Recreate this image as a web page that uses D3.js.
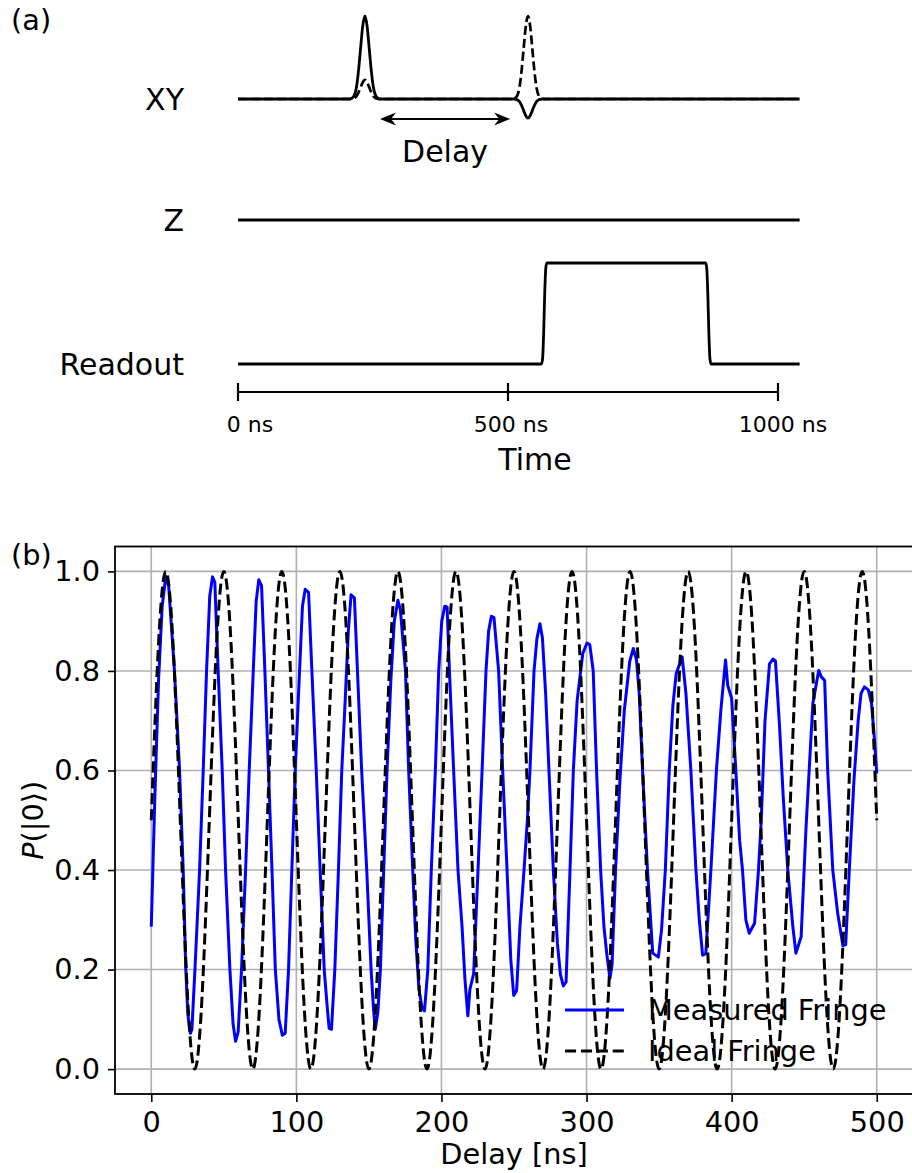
<!DOCTYPE html>
<html>
<head>
<meta charset="utf-8">
<script src="https://cdn.jsdelivr.net/npm/d3@7"></script>
<style>
  body { margin: 0; background: #fff; }
  svg { display: block; }
  text { font-family: "DejaVu Sans", sans-serif; fill: #000; }
</style>
</head>
<body>
<svg id="fig" width="912" height="1173"></svg>
<script>
// ---------------- Panel (a): pulse sequence ----------------
const seqEnd = 1040;                       // ns, end of every channel trace
const pulseCentres = [235, 537];           // ns, the two XY pulses
const pulseOffsets = [-27, -24, -20, -16, -12, -8, -4, 0, 4, 8, 12, 16, 20, 24, 27];
const pulseEnvelope = [0, 0.01, 0.04, 0.13, 0.33, 0.61, 0.88, 1, 0.88, 0.61, 0.33, 0.13, 0.04, 0.01, 0];
const xySolidAmps = [1, -0.23];            // drive seen on the solid trace
const xyDashedAmps = [0.23, 1];            // drive seen on the dashed trace
const readoutTimes = [0, 562, 564, 566, 568, 570, 572, 866, 868, 870, 872, 874, 876, 1040];
const readoutLevels = [0, 0, 0.05, 0.3, 0.7, 0.95, 1, 1, 0.95, 0.7, 0.3, 0.05, 0, 0];
const delaySpan = [263, 504];
const channelNames = ["XY", "Z", "Readout"];
const timeTicks = [0, 500, 1000];
const timeTickLabels = ["0 ns", "500 ns", "1000 ns"];

// ---------------- Panel (b): Ramsey fringe ----------------
const delayTicks = [0, 100, 200, 300, 400, 500];
const probTicks = [0, 0.2, 0.4, 0.6, 0.8, 1.0];

const measuredDelay = [0, 2.5, 5, 7.5, 10, 12, 16, 19.5, 22, 23.8, 25.2, 27, 28, 30.1, 33.3, 35.8, 38.1, 40.3, 42.2, 43.8,
  46.1, 48.9, 51.2, 54.2, 56.4, 58.1, 59.9, 62.2, 65, 67.5, 70.3, 72.3, 74.1, 76, 78.3, 80.8, 83.2, 85.5, 88, 90.3,
  92.3, 94.6, 96.9, 99.2, 102.2, 104.2, 106.1, 108.4, 110.7, 113.7, 116.4, 119.2, 121.4, 122.6, 124.2, 126.5, 129,
  131.3, 133.8, 135.8, 137.7, 140, 142.1, 145, 148.5, 151.5, 153.2, 154.4, 156.2, 157.9, 160.2, 162.5, 165.1, 167.5,
  170, 171.7, 175.2, 177.4, 180.2, 182.3, 184.5, 186.7, 188.3, 190.6, 193, 195.8, 198.1, 200.2, 202.3, 203.9, 205.5,
  208.4, 211.4, 214.2, 216.2, 218.2, 219.6, 222.2, 225.2, 228, 230.7, 232.5, 234.4, 236.2, 239.4, 242.2, 245.2, 247.8,
  249.8, 251.8, 254.1, 256.9, 259.2, 261, 263.8, 265.8, 267.9, 269.6, 271.8, 274.1, 277.1, 279.9, 282, 284, 285.9,
  288.6, 290.9, 293.5, 297.4, 300.3, 302.2, 304.6, 306.9, 309.7, 312, 314, 316.1, 317.6, 320, 323, 326, 329.8, 332.2,
  334.4, 336.3, 338.6, 342, 345.6, 349.5, 351.7, 354.3, 357, 359.5, 361.8, 365.9, 368.5, 371.9, 375.4, 377.7, 380,
  382.2, 385.7, 389.5, 392.6, 395.8, 397.3, 400, 402.9, 405.5, 407.5, 409.8, 412.1, 415.8, 418.5, 420.4, 423, 426.1,
  428.5, 430.2, 433, 435.5, 438.7, 442.2, 444.3, 447.9, 451.3, 453.8, 456, 460, 461.8, 464.1, 466.2, 469.7, 473.1,
  476.7, 478.6, 481.1, 484.3, 487.2, 489.2, 491.5, 494.2, 496.4, 498.5, 500];
const measuredP = [0.286, 0.55, 0.78, 0.93, 0.99, 0.97, 0.80, 0.60, 0.40, 0.20, 0.11, 0.072, 0.08, 0.20, 0.40, 0.60, 0.80, 0.95, 0.989, 0.978,
  0.80, 0.60, 0.40, 0.20, 0.09, 0.056, 0.075, 0.20, 0.40, 0.60, 0.80, 0.94, 0.983, 0.972, 0.80, 0.60, 0.40, 0.20, 0.10, 0.068,
  0.072, 0.20, 0.40, 0.60, 0.80, 0.93, 0.964, 0.958, 0.80, 0.60, 0.40, 0.20, 0.12, 0.082, 0.080, 0.20, 0.40,
  0.60, 0.75, 0.88, 0.953, 0.947, 0.80, 0.60, 0.40, 0.20, 0.12, 0.08, 0.115, 0.20, 0.40, 0.60, 0.78, 0.90,
  0.942, 0.922, 0.80, 0.60, 0.40, 0.26, 0.16, 0.122, 0.117, 0.20, 0.40, 0.60, 0.80, 0.90, 0.93, 0.928, 0.80,
  0.60, 0.40, 0.286, 0.18, 0.107, 0.16, 0.192, 0.40, 0.60, 0.80, 0.88, 0.91, 0.907, 0.80, 0.60, 0.40, 0.22,
  0.148, 0.158, 0.286, 0.40, 0.50, 0.60, 0.80, 0.865, 0.895, 0.866, 0.755, 0.60, 0.40, 0.253, 0.19, 0.167, 0.175,
  0.40, 0.60, 0.74, 0.835, 0.856, 0.853, 0.80, 0.60, 0.40, 0.286, 0.23, 0.182, 0.21, 0.40, 0.58, 0.72, 0.82, 0.845,
  0.823, 0.755, 0.60, 0.40, 0.233, 0.225, 0.28, 0.40, 0.60, 0.73, 0.795, 0.828, 0.755, 0.60, 0.40, 0.30, 0.229,
  0.232, 0.40, 0.60, 0.722, 0.822, 0.771, 0.745, 0.60, 0.46, 0.40, 0.30, 0.273, 0.293, 0.40, 0.50, 0.70, 0.814,
  0.824, 0.82, 0.69, 0.55, 0.40, 0.286, 0.233, 0.266, 0.487, 0.62, 0.735, 0.801, 0.788, 0.781, 0.60, 0.40, 0.313,
  0.248, 0.25, 0.40, 0.58, 0.70, 0.755, 0.768, 0.762, 0.735, 0.66, 0.594];

// ideal fringe sampled every 5 ns
const idealDelay = d3.range(0, 505, 5);
const idealP = [
  0.5, 0.854, 1, 0.854, 0.5, 0.146, 0, 0.146, 0.5, 0.854, 1, 0.854, 0.5, 0.146, 0, 0.146,
  0.5, 0.854, 1, 0.854, 0.5, 0.146, 0, 0.146, 0.5, 0.854, 1, 0.854, 0.5, 0.146, 0, 0.146,
  0.5, 0.854, 1, 0.854, 0.5, 0.146, 0, 0.146, 0.5, 0.854, 1, 0.854, 0.5, 0.146, 0, 0.146,
  0.5, 0.854, 1, 0.854, 0.5, 0.146, 0, 0.146, 0.5, 0.854, 1, 0.854, 0.5, 0.146, 0, 0.146,
  0.5, 0.854, 1, 0.854, 0.5, 0.146, 0, 0.146, 0.5, 0.854, 1, 0.854, 0.5, 0.146, 0, 0.146,
  0.5, 0.854, 1, 0.854, 0.5, 0.146, 0, 0.146, 0.5, 0.854, 1, 0.854, 0.5, 0.146, 0, 0.146,
  0.5, 0.854, 1, 0.854, 0.5];

const seriesNames = ["Measured Fringe", "Ideal Fringe"];

// ======================================================================
const svg = d3.select("#fig");
svg.append("rect").attr("width", 912).attr("height", 1173).attr("fill", "#fff");

const bigFont = 30, smallFont = 22, axFont = 28.8;

// ---------- panel (a) ----------
const gA = svg.append("g");
const tx = d3.scaleLinear().domain([0, 1000]).range([238, 778]);
const xyY = d3.scaleLinear().domain([0, 1]).range([99, 16]);
const zY = 220;
const roY = d3.scaleLinear().domain([0, 1]).range([364, 263]);

function pulseTrain(amps) {
  const pts = [{ t: 0, v: 0 }];
  pulseCentres.forEach((c, i) => {
    pulseOffsets.forEach((o, j) => pts.push({ t: c + o, v: amps[i] * pulseEnvelope[j] }));
  });
  pts.push({ t: seqEnd, v: 0 });
  return pts;
}

const xyLine = d3.line().x(d => tx(d.t)).y(d => xyY(d.v)).curve(d3.curveMonotoneX);
gA.append("path").attr("d", xyLine(pulseTrain(xySolidAmps)))
  .attr("fill", "none").attr("stroke", "#000").attr("stroke-width", 2.8);
gA.append("path").attr("d", xyLine(pulseTrain(xyDashedAmps)))
  .attr("fill", "none").attr("stroke", "#000").attr("stroke-width", 2.7)
  .attr("stroke-dasharray", "9,4");

// Z channel
gA.append("line").attr("x1", tx(0)).attr("x2", tx(seqEnd)).attr("y1", zY).attr("y2", zY)
  .attr("stroke", "#000").attr("stroke-width", 2.8);

// readout pulse
const roLine = d3.line().x((d, i) => tx(readoutTimes[i])).y((d) => roY(d)).curve(d3.curveMonotoneX);
gA.append("path").attr("d", roLine(readoutLevels))
  .attr("fill", "none").attr("stroke", "#000").attr("stroke-width", 2.8);

// channel names
const chanY = [xyY(0), zY, roY(0)];
channelNames.forEach((n, i) => {
  gA.append("text").attr("x", 184).attr("y", chanY[i]).attr("dy", "0.36em")
    .attr("text-anchor", "end").attr("font-size", bigFont).text(n);
});

// delay arrow
const arrY = 119;
const ax0 = tx(delaySpan[0]), ax1 = tx(delaySpan[1]);
gA.append("line").attr("x1", ax0 + 8).attr("x2", ax1 - 8).attr("y1", arrY).attr("y2", arrY)
  .attr("stroke", "#000").attr("stroke-width", 2);
function head(xTip, dir) {
  const L = 16, W = 6.5, N = 11;
  return `M${xTip},${arrY} L${xTip - dir * L},${arrY - W} L${xTip - dir * N},${arrY} L${xTip - dir * L},${arrY + W} Z`;
}
gA.append("path").attr("d", head(ax0, -1)).attr("fill", "#000");
gA.append("path").attr("d", head(ax1, 1)).attr("fill", "#000");
gA.append("text").attr("x", (ax0 + ax1) / 2).attr("y", 162).attr("text-anchor", "middle")
  .attr("font-size", bigFont).text("Delay");

// time axis
const taY = 392;
gA.append("line").attr("x1", tx(0)).attr("x2", tx(1000)).attr("y1", taY).attr("y2", taY)
  .attr("stroke", "#000").attr("stroke-width", 2.2);
timeTicks.forEach((t, i) => {
  gA.append("line").attr("x1", tx(t)).attr("x2", tx(t)).attr("y1", taY - 9).attr("y2", taY + 9)
    .attr("stroke", "#000").attr("stroke-width", 2.2);
  gA.append("text").attr("x", tx(t) + [12, 3, 5][i]).attr("y", 432).attr("text-anchor", "middle")
    .attr("font-size", smallFont).text(timeTickLabels[i]);
});
gA.append("text").attr("x", 535).attr("y", 470).attr("text-anchor", "middle")
  .attr("font-size", bigFont).text("Time");

svg.append("text").attr("x", 11).attr("y", 30).attr("font-size", axFont).text("(a)");

// ---------- panel (b) ----------
const L = 115, R = 913, T = 546.5, B = 1094;
const x = d3.scaleLinear().domain([-25, 525]).range([L, R]);
const y = d3.scaleLinear().domain([-0.05, 1.05]).range([B, T]);
const gB = svg.append("g");

// grid
gB.append("g").selectAll("line").data(delayTicks).join("line")
  .attr("x1", d => x(d)).attr("x2", d => x(d)).attr("y1", T).attr("y2", B)
  .attr("stroke", "#b0b0b0").attr("stroke-width", 1.6);
gB.append("g").selectAll("line").data(probTicks).join("line")
  .attr("x1", L).attr("x2", R).attr("y1", d => y(d)).attr("y2", d => y(d))
  .attr("stroke", "#b0b0b0").attr("stroke-width", 1.6);

// series
const measuredLine = d3.line().x((d, i) => x(measuredDelay[i])).y(d => y(d));
gB.append("path").attr("d", measuredLine(measuredP))
  .attr("fill", "none").attr("stroke", "#0000ff").attr("stroke-width", 3)
  .attr("stroke-linejoin", "round");
const idealLine = d3.line().x((d, i) => x(idealDelay[i])).y(d => y(d)).curve(d3.curveNatural);
gB.append("path").attr("d", idealLine(idealP))
  .attr("fill", "none").attr("stroke", "#000").attr("stroke-width", 3)
  .attr("stroke-dasharray", "11.1,4.8");

// axes
const xAxis = d3.axisBottom(x).tickValues(delayTicks).tickSize(8).tickPadding(10).tickFormat(d3.format("d"));
const yAxis = d3.axisLeft(y).tickValues(probTicks).tickSize(7).tickPadding(8).tickFormat(d3.format(".1f"));
const gx = gB.append("g").attr("transform", `translate(0,${B})`).call(xAxis);
const gy = gB.append("g").attr("transform", `translate(${L},0)`).call(yAxis);
[gx, gy].forEach(g => {
  g.select(".domain").remove();
  g.selectAll(".tick line").attr("stroke", "#000").attr("stroke-width", 1.6);
  g.selectAll(".tick text").attr("font-size", axFont).attr("font-family", "DejaVu Sans").attr("fill", "#000");
});

// frame
gB.append("rect").attr("x", L).attr("y", T).attr("width", R - L).attr("height", B - T)
  .attr("fill", "none").attr("stroke", "#000").attr("stroke-width", 1.8);

// labels
gB.append("text").attr("x", (L + R) / 2).attr("y", 1164).attr("text-anchor", "middle")
  .attr("font-size", axFont).text("Delay [ns]");
const yl = gB.append("text").attr("transform", `translate(43,${(T + B) / 2}) rotate(-90)`)
  .attr("text-anchor", "middle").attr("font-size", axFont);
yl.append("tspan").attr("font-style", "italic").text("P");
yl.append("tspan").text("(|0⟩)");

svg.append("text").attr("x", 11).attr("y", 565).attr("font-size", axFont).text("(b)");

// legend (no frame)
const lg = gB.append("g");
const legY = [1010, 1051];
lg.append("line").attr("x1", 565).attr("x2", 624).attr("y1", legY[0]).attr("y2", legY[0])
  .attr("stroke", "#0000ff").attr("stroke-width", 3);
lg.append("line").attr("x1", 565).attr("x2", 624).attr("y1", legY[1]).attr("y2", legY[1])
  .attr("stroke", "#000").attr("stroke-width", 3).attr("stroke-dasharray", "11.1,4.8");
seriesNames.forEach((n, i) => {
  lg.append("text").attr("x", 648).attr("y", legY[i]).attr("dy", "0.36em")
    .attr("font-size", axFont).text(n);
});
</script>
</body>
</html>
